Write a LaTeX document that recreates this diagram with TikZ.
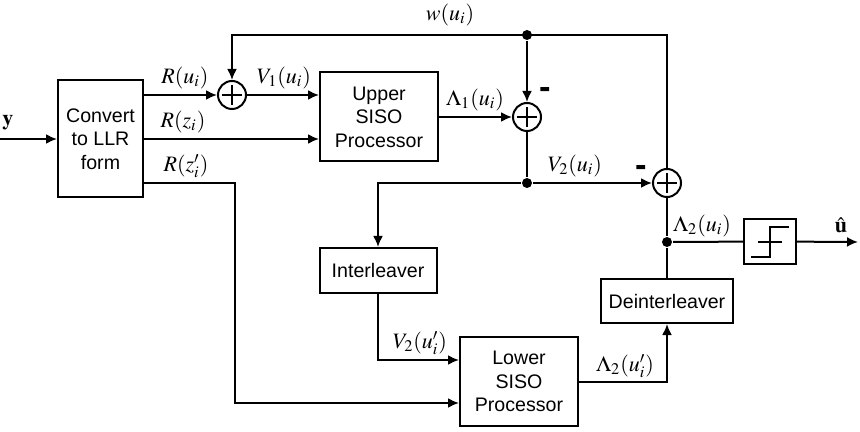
\documentclass[tikz,border=0pt]{standalone}
\usepackage{mathptmx}
\usepackage[no-math]{fontspec}
\setmainfont{Liberation Sans}
\usetikzlibrary{arrows.meta}

\begin{document}
\begin{tikzpicture}[->,>={Latex[length=5.5pt,width=5pt]},x=0.5pt,y=-0.5pt,line width=1pt,
                    font=\fontsize{9.8}{11.7}\selectfont]

  \tikzstyle{block}=[draw,rectangle,align=center,inner sep=0pt]
  \tikzstyle{sum}=[draw,circle,minimum size=14pt,inner sep=0pt,
    path picture={\draw[-,line width=1pt]
      ([yshift=-2pt]path picture bounding box.north) -- ([yshift=2pt]path picture bounding box.south)
      ([xshift=2pt]path picture bounding box.west) -- ([xshift=-2pt]path picture bounding box.east);}]
  \tikzstyle{dot}=[fill,circle,minimum size=5pt,inner sep=0pt]
  \tikzstyle{lbl}=[font=\fontsize{11}{13}\selectfont,inner sep=0pt]
  \tikzstyle{minus}=[font=\bfseries\LARGE,inner sep=0pt]

  \useasboundingbox (0,0) rectangle (860,432);

  % blocks
  \node[block,minimum width=42.5pt,minimum height=58.5pt] (conv)  at (100.5,139) {Convert\\to LLR\\form};
  \node[block,minimum width=59pt,minimum height=44.5pt]   (usiso) at (379,117)    {Upper\\SISO\\Processor};
  \node[block,minimum width=58.5pt,minimum height=22.5pt] (intl)  at (378,270.5)  {Interleaver};
  \node[block,minimum width=59pt,minimum height=44.5pt]   (lsiso) at (519,381.5)  {Lower\\SISO\\Processor};
  \node[block,minimum width=66pt,minimum height=22pt]     (deint) at (667,301)    {Deinterleaver};
  \node[block,minimum width=26pt,minimum height=22.5pt]   (hl)    at (770,241.5)  {};

  % adders and junctions
  \node[sum] (s1) at (232,95)  {};
  \node[sum] (s2) at (527,117) {};
  \node[sum] (s3) at (667,183) {};
  \node[dot] (d1) at (527,35)  {};
  \node[dot] (d2) at (527,183) {};
  \node[dot] (d3) at (667,242) {};

  \coordinate (yin)  at (0,139);
  \coordinate (uout) at (858,242);
  \coordinate (tr)   at (667,35);
  \coordinate (tl)   at (232,35);

  % hard limiter symbol
  \draw[-] (751,257) -- (770,257) -- (770,227) -- (789,227)
           (758,242) -- (782,242);

  % connectors
  \draw (yin) -- (conv);
  \draw (conv.east |- s1) -- (s1);
  \draw (s1) -- (usiso.west |- s1);
  \draw (conv.east) -- (usiso.west |- conv.east);
  \draw (conv.east |- 0,183) -- (235,183) -- (235,403) -- (lsiso.west |- 0,403);
  \draw (usiso) -- (s2);
  \draw (s3) -- (tr) -- (tl) -- (s1);
  \draw (d1) -- (s2);
  \draw[-] (s2) -- (d2);
  \draw (d2) -- (s3);
  \draw (d2) -- (intl.north |- d2) -- (intl);
  \draw (intl) -- (intl.south |- 0,360) -- (lsiso.west |- 0,360);
  \draw (lsiso.east) -- (deint.south |- lsiso.east) -- (deint);
  \draw[-] (deint) -- (d3) -- (s3);
  \draw[-] (d3) -- (hl);
  \draw (hl) -- (uout);

  % labels
  \node[lbl] (ly)   at (8,123)   {$\mathbf{y}$};
  \node[lbl] (lRu)  at (185,78)  {$R(u_i)$};
  \node[lbl] (lV1)  at (284,78)  {$V_1(u_i)$};
  \node[lbl] (lRz)  at (183,122) {$R(z_i)$};
  \node[lbl] (lRzp) at (186,166) {$R(z'_i)$};
  \node[lbl] (lw)   at (450,15)  {$w(u_i)$};
  \node[lbl] (lL1)  at (475,100) {$\Lambda_1(u_i)$};
  \node[lbl] (lV2)  at (575,166) {$V_2(u_i)$};
  \node[lbl] (lV2p) at (420,343) {$V_2(u'_i)$};
  \node[lbl] (lL2p) at (625,366) {$\Lambda_2(u'_i)$};
  \node[lbl] (lL2)  at (702,226) {$\Lambda_2(u_i)$};
  \node[lbl] (lu)   at (841,225) {$\hat{\mathbf{u}}$};
  \node[minus] (m2) at (545,93)  {-};
  \node[minus] (m3) at (641,171) {-};
\end{tikzpicture}
\end{document}
